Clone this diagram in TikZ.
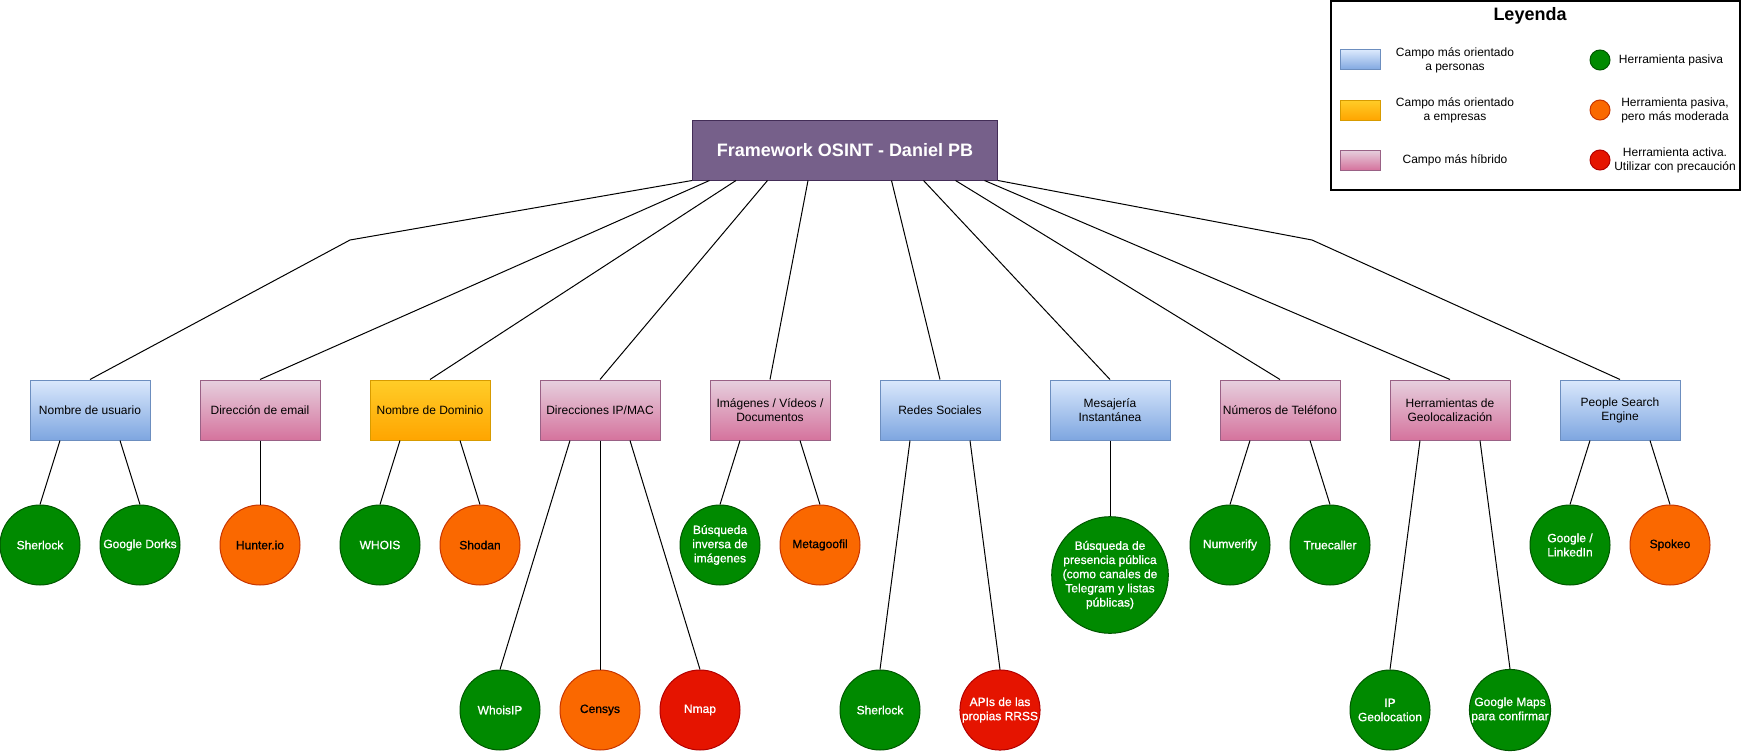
\documentclass[tikz,border=0pt]{standalone}
\usepackage{fontspec}
\setmainfont{Liberation Sans}
\newfontfamily\gruesa[FakeBold=0.9]{Liberation Sans}
\usepackage{tikz}
\usetikzlibrary{shapes,arrows,positioning}
\definecolor{azulA}{HTML}{DAE8FC}
\definecolor{azulB}{HTML}{7EA6E0}
\definecolor{azulC}{HTML}{6C8EBF}
\definecolor{amarA}{HTML}{FFCD28}
\definecolor{amarB}{HTML}{FFA500}
\definecolor{amarC}{HTML}{D79B00}
\definecolor{rosaA}{HTML}{E6D0DE}
\definecolor{rosaB}{HTML}{D5739D}
\definecolor{rosaC}{HTML}{996185}
\definecolor{lila}{HTML}{76608A}
\definecolor{lilaC}{HTML}{432D57}
\definecolor{verde}{HTML}{008A00}
\definecolor{verdeC}{HTML}{005700}
\definecolor{naranja}{HTML}{FA6800}
\definecolor{naranjaC}{HTML}{C73500}
\definecolor{rojo}{HTML}{E51400}
\definecolor{rojoC}{HTML}{B20000}
\newcommand{\doce}{\fontsize{12}{14.2}\selectfont}
\tikzset{
campo/.style={draw, line width=1pt, minimum width=120pt, minimum height=60pt, inner sep=1pt, align=center, font=\doce},
persona/.style={campo, top color=azulA, bottom color=azulB, draw=azulC},
empresa/.style={campo, top color=amarA, bottom color=amarB, draw=amarC},
hibrido/.style={campo, top color=rosaA, bottom color=rosaB, draw=rosaC},
herr/.style={circle, draw, line width=1pt, minimum size=80pt, inner sep=0pt, align=center, font=\gruesa\doce},
pasiva/.style={herr, fill=verde, draw=verdeC, text=white},
moderada/.style={herr, fill=naranja, draw=naranjaC, text=black},
activa/.style={herr, fill=rojo, draw=rojoC, text=white},
leyt/.style={align=center, font=\doce}
}

\begin{document}
\begin{tikzpicture}[x=1pt,y=-1pt,line width=1pt]
\useasboundingbox (0,0) rectangle (1741,752);

% nodo raiz
\node[draw=lilaC, fill=lila, text=white, minimum width=305pt, minimum height=60pt, font=\bfseries\fontsize{18}{20}\selectfont] (root) at (845,150) {Framework OSINT - Daniel PB};

% campos
\node[persona] (usuario) at (90,410) {Nombre de usuario};
\node[hibrido] (email) at (260,410) {Dirección de email};
\node[empresa] (dominio) at (430,410) {Nombre de Dominio};
\node[hibrido] (ip) at (600,410) {Direcciones IP/MAC};
\node[hibrido] (media) at (770,410) {Imágenes / Vídeos /\\Documentos};
\node[persona] (redes) at (940,410) {Redes Sociales};
\node[persona] (mensa) at (1110,410) {Mesajería\\Instantánea};
\node[hibrido] (tel) at (1280,410) {Números de Teléfono};
\node[hibrido] (geo) at (1450,410) {Herramientas de\\Geolocalización};
\node[persona] (people) at (1620,410) {People Search\\Engine};

% herramientas
\node[pasiva] (sherlockA) at (40,545) {Sherlock};
\node[pasiva] (dorks) at (140,545) {Google Dorks};
\node[moderada] (hunter) at (260,545) {Hunter.io};
\node[pasiva] (whois) at (380,545) {WHOIS};
\node[moderada] (shodan) at (480,545) {Shodan};
\node[pasiva] (whoisip) at (500,710) {WhoisIP};
\node[moderada] (censys) at (600,710) {Censys};
\node[activa] (nmap) at (700,710) {Nmap};
\node[pasiva] (inversa) at (720,545) {Búsqueda\\inversa de\\imágenes};
\node[moderada] (metagoofil) at (820,545) {Metagoofil};
\node[pasiva] (sherlockB) at (880,710) {Sherlock};
\node[activa] (apis) at (1000,710) {APIs de las\\propias RRSS};
\node[pasiva, minimum size=110pt] (presencia) at (1110,575) {Búsqueda de\\presencia pública\\(como canales de\\Telegram y listas\\públicas)};
\node[pasiva] (numverify) at (1230,545) {Numverify};
\node[pasiva] (truecaller) at (1330,545) {Truecaller};
\node[pasiva] (ipgeo) at (1390,710) {IP\\Geolocation};
\node[pasiva] (maps) at (1510,710) {Google Maps\\para confirmar};
\node[pasiva] (linkedin) at (1570,545) {Google /\\LinkedIn};
\node[moderada] (spokeo) at (1670,545) {Spokeo};

% conexiones raiz - campos
\coordinate (codoA) at (350,240);
\coordinate (codoB) at (1312,240);
\draw (root.south west) -- (codoA) -- (usuario.north);
\draw (root.south east) -- (codoB) -- (people.north);
\foreach \dx/\c in {17.5/email, 44/dominio, 75.5/ip, 116/media, 199.5/redes, 231.5/mensa, 263.5/tel, 292.5/geo}
\draw ([xshift=\dx pt]root.south west) -- (\c.north);

% conexiones campos - herramientas
\foreach \dx/\c/\h in {-30/usuario/sherlockA, 30/usuario/dorks, 0/email/hunter, -30/dominio/whois, 30/dominio/shodan,
 -30/ip/whoisip, 0/ip/censys, 30/ip/nmap, -30/media/inversa, 30/media/metagoofil, -30/redes/sherlockB, 30/redes/apis,
 0/mensa/presencia, -30/tel/numverify, 30/tel/truecaller, -30/geo/ipgeo, 30/geo/maps, -30/people/linkedin, 30/people/spokeo}
\draw ([xshift=\dx pt]\c.south) -- (\h.north);

% leyenda
\draw[line width=1.3pt] (1331,1) rectangle (1740,190);
\node[font=\bfseries\fontsize{18}{20}\selectfont] (leyenda) at (1530,16) {Leyenda};
\node[persona, minimum width=40pt, minimum height=20pt] (lpers) at (1360,60) {};
\node[empresa, minimum width=40pt, minimum height=20pt] (lemp) at (1360,110) {};
\node[hibrido, minimum width=40pt, minimum height=20pt] (lhib) at (1360,160) {};
\node[leyt] (tpers) at (1455,60) {Campo más orientado\\a personas};
\node[leyt] (temp) at (1455,110) {Campo más orientado\\a empresas};
\node[leyt] (thib) at (1455,160) {Campo más híbrido};
\node[pasiva, minimum size=20pt] (lpas) at (1600,60) {};
\node[moderada, minimum size=20pt] (lmod) at (1600,110) {};
\node[activa, minimum size=20pt] (lact) at (1600,160) {};
\node[leyt] (tpas) at (1671,60) {Herramienta pasiva};
\node[leyt] (tmod) at (1675,110) {Herramienta pasiva,\\pero más moderada};
\node[leyt] (tact) at (1675,160) {Herramienta activa.\\Utilizar con precaución};

\end{tikzpicture}
\end{document}
